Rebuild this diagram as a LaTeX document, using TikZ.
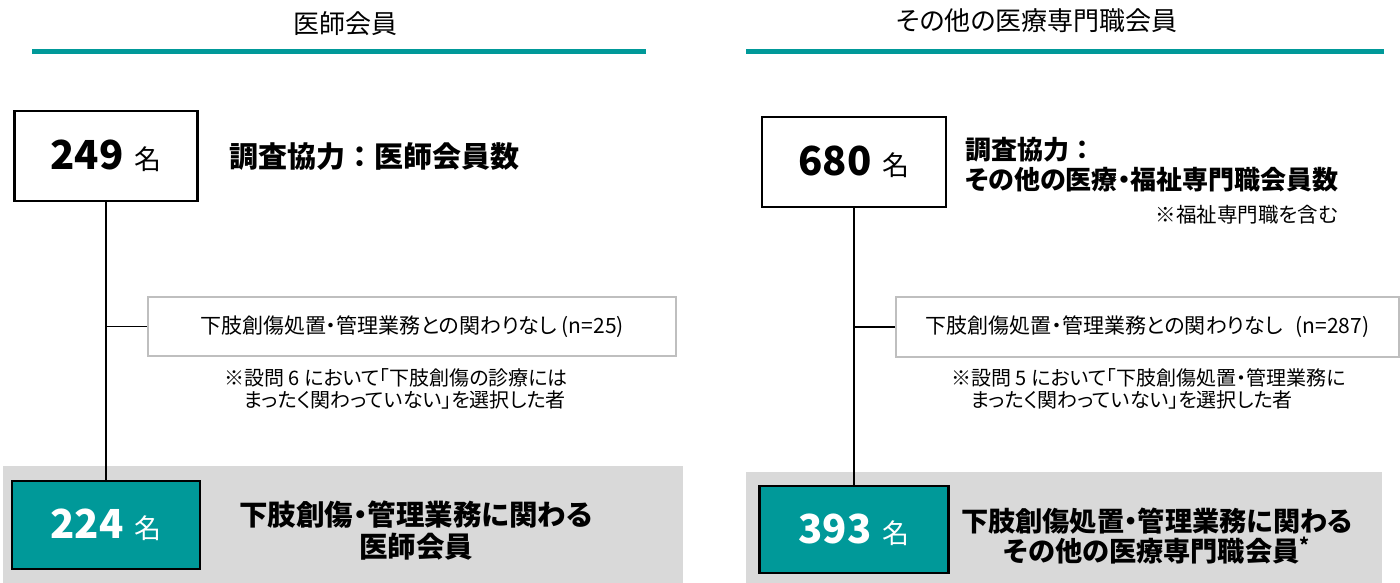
\documentclass[tikz,border=0pt]{standalone}
\usepackage{fontspec}
\setmainfont{Noto Sans CJK JP}[RawFeature=+palt]
\newfontfamily\jpfull{Noto Sans CJK JP}
\definecolor{tealc}{RGB}{0,153,153}
\definecolor{bandgray}{RGB}{217,217,217}
\definecolor{boxgray}{RGB}{191,191,191}
\newcommand{\cnt}[1]{{\fontsize{40}{40}\selectfont\bfseries #1}\hspace{11pt}{\fontsize{27}{28}\selectfont 名}}
\newcommand{\fcolon}{{\jpfull ：}}
\begin{document}
\begin{tikzpicture}[x=1pt,y=-1pt,
  titletext/.style={font=\fontsize{26}{28}\selectfont,inner sep=0pt},
  tealrule/.style={draw=tealc,line width=5pt},
  countbox/.style={draw=black,line width=2.2pt,inner sep=0pt,fill=white},
  resultbox/.style={countbox,fill=tealc,text=white},
  excludebox/.style={draw=boxgray,line width=1.5pt,inner sep=0pt,fill=white,font=\fontsize{21}{22}\selectfont},
  band/.style={fill=bandgray,draw=none,inner sep=0pt,anchor=north west},
  flow/.style={draw=black,line width=1.2pt},
  notetext/.style={font=\fontsize{20}{22}\selectfont,align=left,inner sep=0pt,anchor=west},
  headtext/.style={font=\bfseries\fontsize{29}{32}\selectfont,inner sep=0pt},
  headtextR/.style={font=\bfseries\fontsize{26}{30}\selectfont,inner sep=0pt}]
\useasboundingbox (0,0) rectangle (1400,583);

% ---------- left panel ----------
\node[titletext] (titleL) at (345,24) {医師会員};
\draw[tealrule] (32,52) -- (646,52);

\node[band,minimum width=680pt,minimum height=117pt] (bandL) at (3,466) {};

\node[countbox,minimum width=183pt,minimum height=90pt] (b249) at (106,156) {\cnt{249}};
\node[headtext,anchor=west] (hL) at (229,157) {調査協力\fcolon 医師会員数};

\node[excludebox,minimum width=528pt,minimum height=59pt] (exL) at (412,326.5) {下肢創傷処置・管理業務との関わりなし (n=25)};
\node[notetext] (noteL) at (224,389) {※設問 6 において「下肢創傷の診療には\\\hspace{1em}まったく関わっていない」を選択した者};

\node[resultbox,minimum width=188pt,minimum height=88pt] (b224) at (106,525) {\cnt{224}};
\node[headtext,align=center,font=\bfseries\fontsize{28.5}{32}\selectfont] (rL) at (416,531) {下肢創傷・管理業務に関わる\\医師会員};

\draw[flow] (b249.south) -- (b224.north);
\coordinate (jL) at (b249.south |- exL.west);
\draw[flow] (jL) -- (exL.west);

% ---------- right panel ----------
\node[titletext] (titleR) at (1037,21) {その他の医療専門職会員};
\draw[tealrule] (746,52) -- (1384,52);

\node[band,minimum width=636pt,minimum height=111pt] (bandR) at (746,472) {};

\node[countbox,minimum width=184pt,minimum height=90pt] (b680) at (854,162) {\cnt{680}};
\node[headtextR,align=left,anchor=west] (hR) at (965,165) {調査協力\fcolon\\その他の医療・福祉専門職会員数};
\node[notetext,anchor=east,font=\fontsize{20.5}{22}\selectfont] (subR) at (1338,215) {※福祉専門職を含む};

\node[excludebox,minimum width=503pt,minimum height=60pt] (exR) at (1147.5,327) {下肢創傷処置・管理業務との関わりなし\hspace{0.6em}(n=287)};
\node[notetext] (noteR) at (951,389) {※設問 5 において「下肢創傷処置・管理業務に\\\hspace{1em}まったく関わっていない」を選択した者};

\node[resultbox,minimum width=189pt,minimum height=87pt] (b393) at (854,529.5) {\cnt{393}};
\node[headtextR,align=center,font=\bfseries\fontsize{27.2}{30}\selectfont] (rR) at (1157,536) {下肢創傷処置・管理業務に関わる\\その他の医療専門職会員\textsuperscript{*}};

\draw[flow] (b680.south) -- (b393.north);
\coordinate (jR) at (b680.south |- exR.west);
\draw[flow] (jR) -- (exR.west);
\end{tikzpicture}
\end{document}
